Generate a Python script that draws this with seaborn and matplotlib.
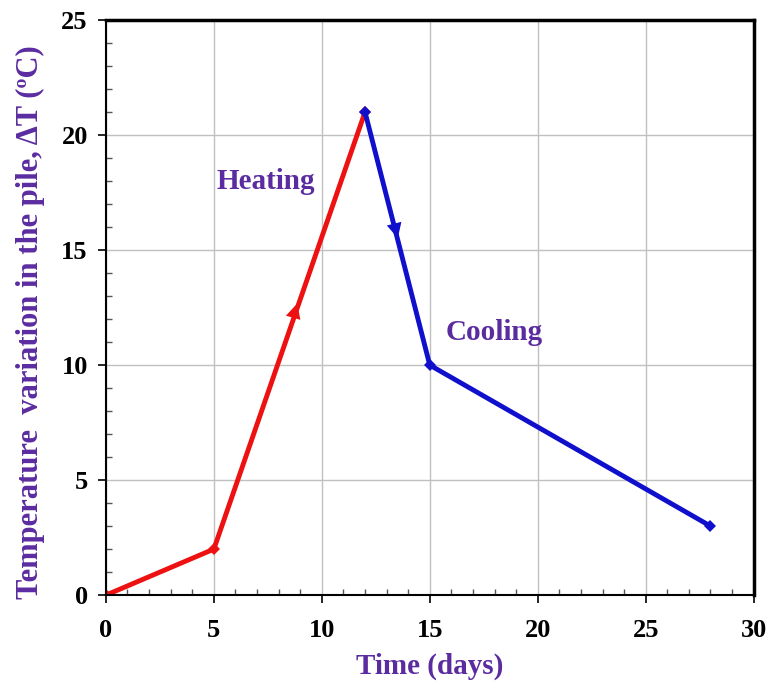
import matplotlib
matplotlib.use("Agg")
import matplotlib.pyplot as plt
import seaborn as sns
import pandas as pd
from matplotlib.ticker import MultipleLocator

heat_days = [0, 5, 12]
heat_temp = [0, 2, 21]
cool_days = [12, 15, 28]
cool_temp = [21, 10, 3]

df = pd.DataFrame({
    "days": heat_days + cool_days,
    "temp": heat_temp + cool_temp,
    "phase": ["Heating"] * len(heat_days) + ["Cooling"] * len(cool_days),
})

sns.set_theme(style="white")
plt.rcParams["font.family"] = ["Liberation Serif", "DejaVu Serif"]
purple = "#5b2ca0"

fig = plt.figure(figsize=(7.73, 6.92), dpi=100)
ax = fig.add_axes([0.137, 0.140, 0.838, 0.831])

sns.lineplot(data=df, x="days", y="temp", hue="phase",
             palette={"Heating": "#ee1111", "Cooling": "#1010cc"},
             marker="D", markersize=6, markeredgewidth=0, linewidth=3.5,
             legend=False, ax=ax, sort=False)

# direction arrows
ax.annotate("", xy=(8.9, 12.8), xytext=(8.5, 11.5),
            arrowprops=dict(arrowstyle="-|>,head_length=0.9,head_width=0.45", color="#ee1111", lw=0))
ax.annotate("", xy=(13.55, 15.4), xytext=(13.2, 16.7),
            arrowprops=dict(arrowstyle="-|>,head_length=0.9,head_width=0.45", color="#1010cc", lw=0))

ax.text(7.4, 18.0, "Heating", color=purple, fontsize=21, fontweight="bold", ha="center", va="center")
ax.text(18.0, 11.4, "Cooling", color=purple, fontsize=21, fontweight="bold", ha="center", va="center")

ax.set_xlim(0, 30)
ax.set_ylim(0, 25)
ax.xaxis.set_major_locator(MultipleLocator(5))
ax.yaxis.set_major_locator(MultipleLocator(5))
ax.xaxis.set_minor_locator(MultipleLocator(1))
ax.yaxis.set_minor_locator(MultipleLocator(1))
ax.grid(True, which="major", color="#c0c0c0", linewidth=1)
ax.tick_params(which="major", direction="out", length=6, width=1.2, color="black",
               labelcolor="black", labelsize=19, bottom=True, left=True, pad=7)
ax.tick_params(axis="x", which="major", pad=11)
ax.tick_params(which="minor", direction="in", length=4, width=1, color="#555555",
               bottom=True, left=True)
for lab in ax.get_xticklabels() + ax.get_yticklabels():
    lab.set_fontweight("bold")
for s in ax.spines.values():
    s.set_color("black")
    s.set_linewidth(1.5)
ax.spines["right"].set_linewidth(2.5)
ax.spines["top"].set_linewidth(2.5)

ax.set_xlabel("Time (days)", color=purple, fontsize=21, fontweight="bold", labelpad=8)
ax.set_ylabel("Temperature  variation in the pile, \u0394T (\u00baC)", color=purple,
              fontsize=22, fontweight="bold")
ax.yaxis.set_label_coords(-0.094, 0.475)

fig.savefig("out.png", dpi=100)
